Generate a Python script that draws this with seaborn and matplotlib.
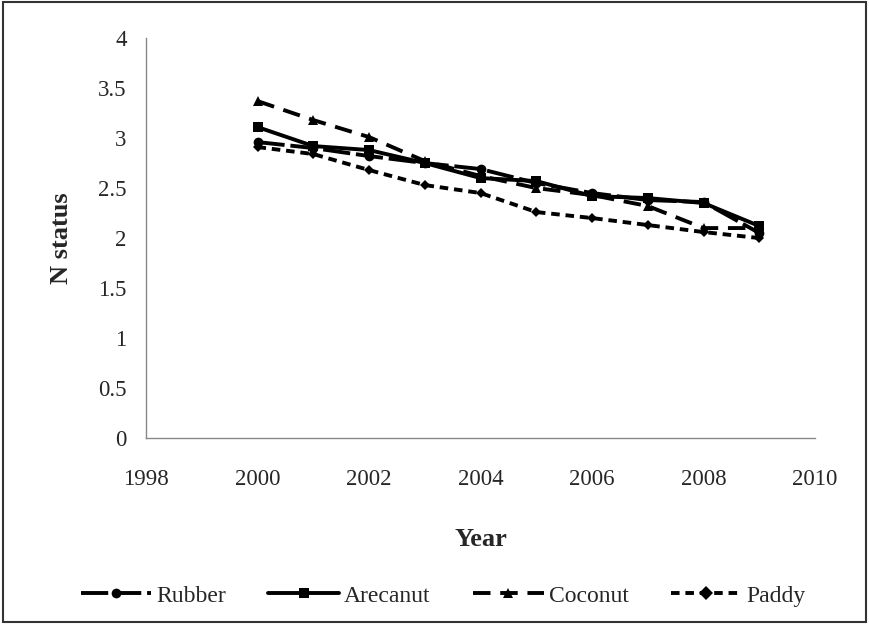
import numpy as np
import pandas as pd
import matplotlib
matplotlib.use('Agg')
import matplotlib.pyplot as plt
import seaborn as sns

# 연도별 N status 값
years = [2000, 2001, 2002, 2003, 2004, 2005, 2006, 2007, 2008, 2009]
rubber = [2.96, 2.90, 2.82, 2.75, 2.69, 2.55, 2.45, 2.38, 2.36, 2.05]
arecanut = [3.11, 2.92, 2.88, 2.75, 2.60, 2.57, 2.42, 2.40, 2.35, 2.12]
coconut = [3.37, 3.18, 3.01, 2.77, 2.62, 2.50, 2.43, 2.32, 2.10, 2.10]
paddy = [2.91, 2.84, 2.68, 2.53, 2.45, 2.26, 2.20, 2.13, 2.06, 2.00]
crops = ['Rubber', 'Arecanut', 'Coconut', 'Paddy']

df = pd.DataFrame({'Year': years * 4,
                   'N': rubber + arecanut + coconut + paddy,
                   'crop': np.repeat(crops, len(years))})

sns.set_style('white')
plt.rcParams['font.family'] = ['Liberation Serif', 'DejaVu Serif']

fig = plt.figure(figsize=(8.69, 6.24), dpi=100)
ax = fig.add_axes([0.168, 0.298, 0.77, 0.641])

sns.lineplot(data=df, x='Year', y='N', hue='crop', style='crop',
             palette=['black'] * 4,
             markers={'Rubber': 'o', 'Arecanut': 's', 'Coconut': '^', 'Paddy': 'D'},
             dashes={'Rubber': (7, 1.5), 'Arecanut': '', 'Coconut': (4.5, 2.5), 'Paddy': (2.2, 1.5)},
             linewidth=2.8, markersize=7, markeredgewidth=0,
             ax=ax, legend=True)
# paddy 마커는 조금 작게
ax.lines[3].set_markersize(5.5)

ax.set_xlim(1998, 2010)
ax.set_ylim(0, 4)
ax.set_xticks(range(1998, 2011, 2))
ax.set_yticks(np.arange(0, 4.01, 0.5))
ax.set_yticklabels(['0', '0.5', '1', '1.5', '2', '2.5', '3', '3.5', '4'])
ax.tick_params(labelsize=16.5, length=0, pad=14)
ax.tick_params(axis='x', pad=22)
for s in ['top', 'right']:
    ax.spines[s].set_visible(False)
for s in ['left', 'bottom']:
    ax.spines[s].set_color('#888888')
    ax.spines[s].set_linewidth(1)

ax.set_xlabel('Year', fontsize=19, fontweight='bold', labelpad=28)
ax.set_ylabel('N status', fontsize=19, fontweight='bold', labelpad=18)

h, l = ax.get_legend_handles_labels()
ax.legend(h, l, loc='center', bbox_to_anchor=(0.51, 0.045), bbox_transform=fig.transFigure,
          ncol=4, frameon=False, fontsize=17, handlelength=3.0, columnspacing=1.8,
          handletextpad=0.2)

# 바깥 테두리
fig.patches.append(plt.Rectangle((0.004, 0.004), 0.992, 0.992, transform=fig.transFigure,
                                 fill=False, edgecolor='#333333', linewidth=1.5))

fig.savefig('out.png', dpi=100)
